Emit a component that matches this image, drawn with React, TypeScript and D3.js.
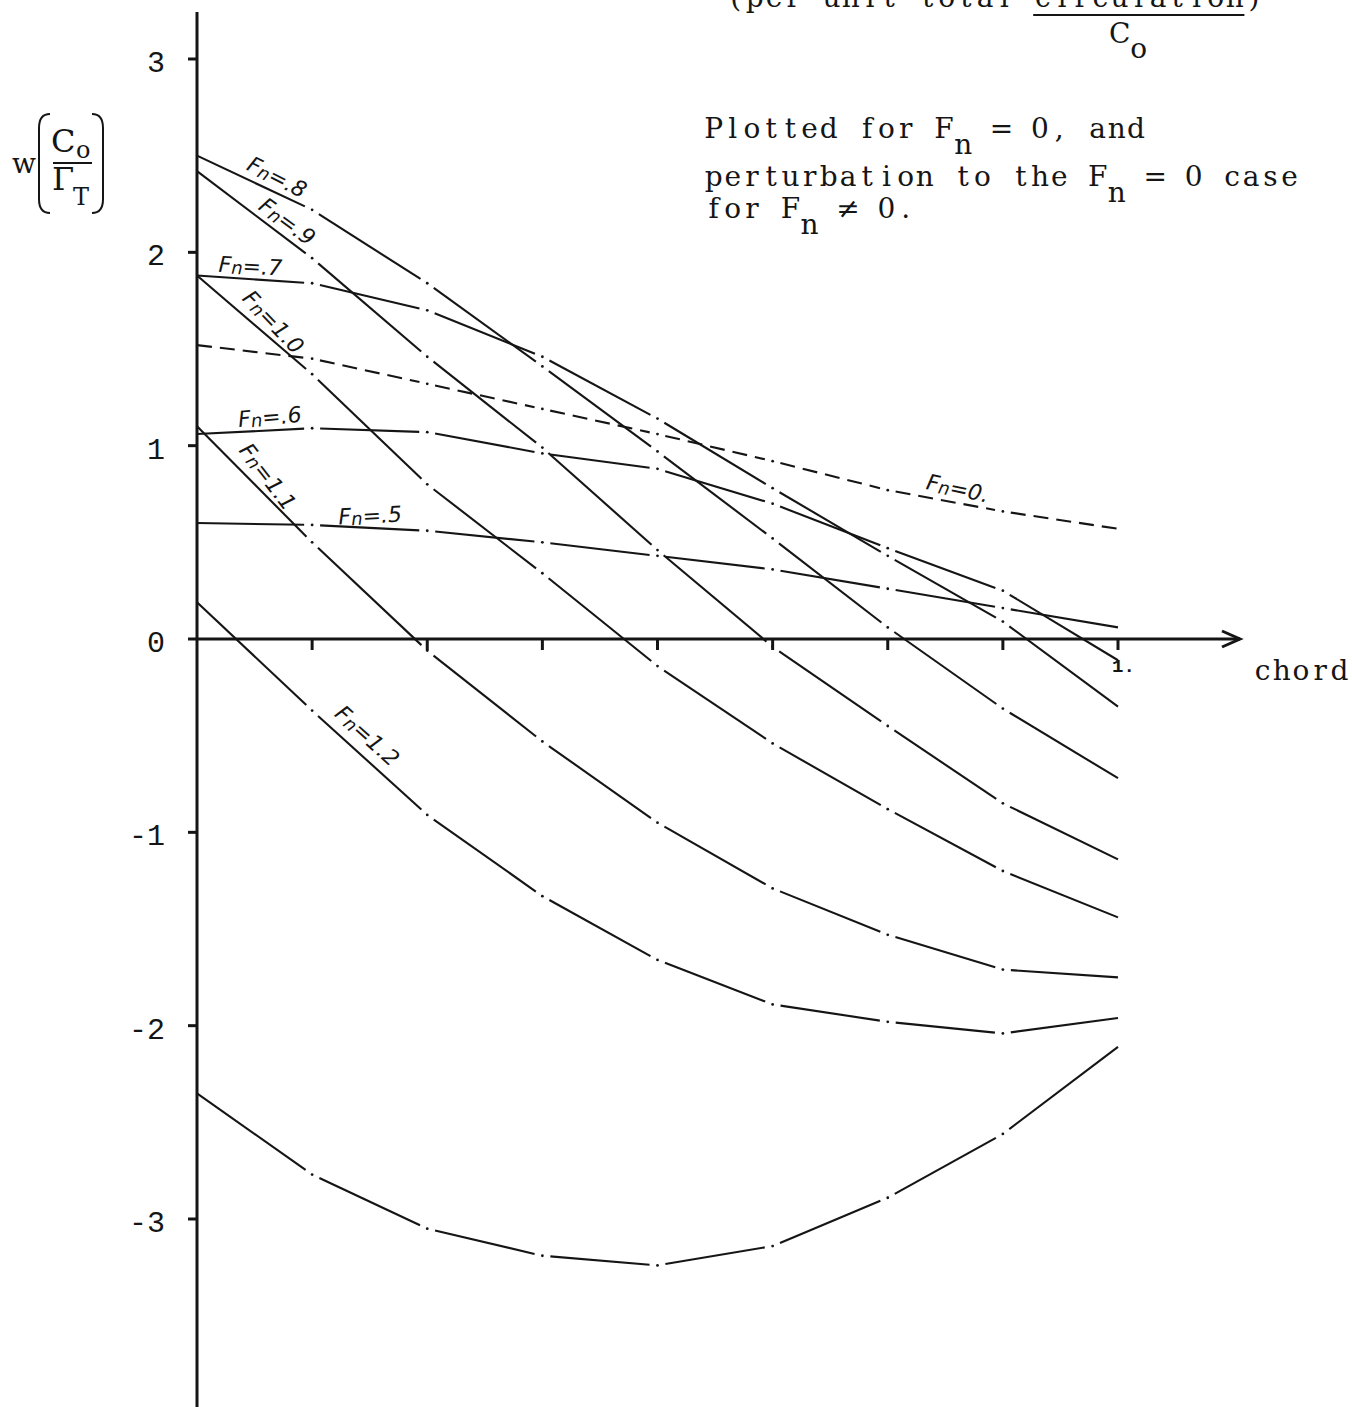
import React from 'react';
import * as d3 from 'd3';

// Chord stations at which the downwash was evaluated
const chordStations = [0, 0.125, 0.25, 0.375, 0.5, 0.625, 0.75, 0.875, 1];
const chordTicks = [0.125, 0.25, 0.375, 0.5, 0.625, 0.75, 0.875, 1];
const wTicks = [3, 2, 1, 0, -1, -2, -3];

// w (C0 / ΓT) at each chord station
const wFn0 = [1.52, 1.45, 1.32, 1.19, 1.06, 0.92, 0.77, 0.66, 0.57];
const wFn05 = [0.6, 0.59, 0.56, 0.5, 0.43, 0.36, 0.26, 0.16, 0.06];
const wFn06 = [1.06, 1.09, 1.07, 0.96, 0.88, 0.7, 0.47, 0.25, -0.11];
const wFn07 = [1.88, 1.84, 1.7, 1.46, 1.14, 0.78, 0.43, 0.09, -0.35];
const wFn08 = [2.5, 2.22, 1.84, 1.41, 0.97, 0.52, 0.06, -0.36, -0.72];
const wFn09 = [2.42, 1.97, 1.46, 0.99, 0.46, -0.04, -0.45, -0.85, -1.14];
const wFn10 = [1.88, 1.37, 0.8, 0.34, -0.14, -0.54, -0.88, -1.2, -1.44];
const wFn11 = [1.1, 0.5, -0.06, -0.53, -0.95, -1.29, -1.53, -1.71, -1.75];
const wFn12 = [0.19, -0.37, -0.91, -1.33, -1.66, -1.89, -1.98, -2.04, -1.96];
const wLowest = [-2.35, -2.77, -3.05, -3.19, -3.24, -3.14, -2.89, -2.56, -2.11];

const curveSeries = [wFn0, wFn05, wFn06, wFn07, wFn08, wFn09, wFn10, wFn11, wFn12, wLowest];

// Curve annotations: Froude number text, anchor in (chord, w), tilt in degrees
const fnNames = ['0.', '.5', '.6', '.7', '.8', '.9', '1.0', '1.1', '1.2'];
const fnAnchorChord = [0.826, 0.188, 0.079, 0.058, 0.087, 0.098, 0.083, 0.077, 0.185];
const fnAnchorW = [0.78, 0.64, 1.15, 1.93, 2.39, 2.16, 1.64, 0.84, -0.5];
const fnTilt = [12, -3, -5, 3, 27, 36, 46, 52, 42];

const W = 1352;
const H = 1407;

const x = d3.scaleLinear().domain([0, 1]).range([197, 1118]);
const y = d3.scaleLinear().domain([-3, 3]).range([1219, 59]);

const INK = '#151515';
const TYPE = '"DejaVu Serif", "Liberation Serif", serif';
const TICKFONT = '"Liberation Mono", "DejaVu Sans Mono", monospace';
const HAND = '"DejaVu Sans", "Liberation Sans", sans-serif';
const PITCH = 19.2; // typewriter character pitch

const segLine = d3.line<[number, number]>().x((d) => d[0]).y((d) => d[1]);

function brokenCurve(vals: number[], gap: number) {
  const pts: [number, number][] = chordStations.map((c, i) => [x(c), y(vals[i])]);
  const segs: string[] = [];
  for (let i = 0; i < pts.length - 1; i++) {
    const [x0, y0] = pts[i];
    const [x1, y1] = pts[i + 1];
    const len = Math.hypot(x1 - x0, y1 - y0);
    const ux = (x1 - x0) / len;
    const uy = (y1 - y0) / len;
    const g0 = i === 0 ? 0 : gap;
    const g1 = i === pts.length - 2 ? 0 : gap;
    segs.push(
      segLine([
        [x0 + ux * g0, y0 + uy * g0],
        [x1 - ux * g1, y1 - uy * g1],
      ]) as string
    );
  }
  return { segs, dots: pts.slice(1, -1) };
}

// Fixed-pitch line of typed text; col is the starting character cell
function Typed({ left, col = 0, base, s, size = 28 }: { left: number; col?: number; base: number; s: string; size?: number }) {
  const chars = Array.from(s);
  const xs = chars.map((_, i) => (left + (col + i) * PITCH + PITCH / 2).toFixed(1));
  return (
    <text x={xs.join(' ')} y={base} textAnchor="middle" fontFamily={TYPE} fontSize={size} fill={INK} xmlSpace="preserve">
      {s}
    </text>
  );
}

function FnLabel({ i }: { i: number }) {
  const px = x(fnAnchorChord[i]);
  const py = y(fnAnchorW[i]);
  return (
    <text
      transform={`translate(${px},${py}) rotate(${fnTilt[i]})`}
      textAnchor="middle"
      dominantBaseline="central"
      fontFamily={HAND}
      fontStyle="italic"
      fontSize={22}
      fill={INK}
    >
      F
      <tspan fontSize={18} dy={2}>
        n
      </tspan>
      <tspan dy={-2}>={fnNames[i]}</tspan>
    </text>
  );
}

export default function App() {
  const x0 = x(0);
  const y0 = y(0);
  const arrowTip = 1240;
  const tx = 704;

  return (
    <svg
      width={W}
      height={H}
      viewBox={`0 0 ${W} ${H}`}
      style={{ position: 'absolute', left: 0, top: 0, background: '#fff' }}
    >
      <rect width={W} height={H} fill="#fff" />

      {/* curves */}
      {curveSeries.map((vals, k) => {
        const { segs, dots } = brokenCurve(vals, 8);
        const dashed = k === 0;
        return (
          <g key={k}>
            {segs.map((d, j) => (
              <path
                key={j}
                d={d}
                fill="none"
                stroke={INK}
                strokeWidth={2.1}
                strokeDasharray={dashed ? '15 8' : undefined}
              />
            ))}
            {dots.map((p, j) => (
              <circle key={j} cx={p[0]} cy={p[1]} r={1.4} fill={INK} />
            ))}
          </g>
        );
      })}

      {/* y axis */}
      <line x1={x0} y1={12} x2={x0} y2={H} stroke={INK} strokeWidth={3} />
      {wTicks.map((t) => (
        <g key={t}>
          <line x1={x0 - 9} y1={y(t)} x2={x0} y2={y(t)} stroke={INK} strokeWidth={3} />
          <text
            x={165}
            y={y(t) + 13}
            textAnchor="end"
            fontFamily={TICKFONT}
            fontSize={30}
            fill={INK}
          >
            {t < 0 ? `-${-t}` : `${t}`}
          </text>
        </g>
      ))}

      {/* x axis with arrow */}
      <line x1={x0} y1={y0} x2={arrowTip} y2={y0} stroke={INK} strokeWidth={3} />
      <path
        d={`M${arrowTip - 18},${y0 - 8} L${arrowTip},${y0} L${arrowTip - 18},${y0 + 8}`}
        fill="none"
        stroke={INK}
        strokeWidth={3}
      />
      {chordTicks.map((t) => (
        <line key={t} x1={x(t)} y1={y0} x2={x(t)} y2={y0 + 11} stroke={INK} strokeWidth={3} />
      ))}
      <text x={x(1) - 6} y={y0 + 33} fontFamily={TICKFONT} fontSize={19} fontWeight="bold" fill={INK}>
        1.
      </text>
      <Typed left={1253} base={680} s="chord" />

      {/* y label: w (C0 / ΓT) */}
      <g fill={INK} fontFamily={TYPE}>
        <text x={12} y={173} fontSize={28}>
          w
        </text>
        <path d="M50,114 Q39,114 39,128 L39,199 Q39,213 50,213" fill="none" stroke={INK} strokeWidth={2} />
        <path d="M92,114 Q103,114 103,128 L103,199 Q103,213 92,213" fill="none" stroke={INK} strokeWidth={2} />
        <text x={51} y={152} fontSize={32}>
          C
        </text>
        <text x={76} y={158} fontSize={24}>
          o
        </text>
        <line x1={53} y1={163} x2={92} y2={163} stroke={INK} strokeWidth={2} />
        <text x={52} y={190} fontSize={32}>
          Γ
        </text>
        <text x={73} y={205} fontSize={24}>
          T
        </text>
      </g>

      {/* typed note */}
      <Typed left={726} base={7} s="(per unit total circulation)" />
      <line x1={726 + 16 * PITCH} y1={15} x2={726 + 27 * PITCH} y2={15} stroke={INK} strokeWidth={2} />
      <Typed left={726} col={20} base={43} s="C" />
      <Typed left={726} col={21} base={58} s="o" />

      <Typed left={tx} base={138} s="Plotted for F" />
      <Typed left={tx} col={13} base={154} s="n" />
      <Typed left={tx} col={14} base={138} s=" = 0, and" />

      <Typed left={tx} base={186} s="perturbation to the F" />
      <Typed left={tx} col={21} base={202} s="n" />
      <Typed left={tx} col={22} base={186} s=" = 0 case" />

      <Typed left={tx} base={218} s="for F" />
      <Typed left={tx} col={5} base={234} s="n" />
      <Typed left={tx} col={6} base={218} s=" ≠ 0." />

      {/* curve annotations */}
      {fnNames.map((_, i) => (
        <FnLabel key={i} i={i} />
      ))}
    </svg>
  );
}
